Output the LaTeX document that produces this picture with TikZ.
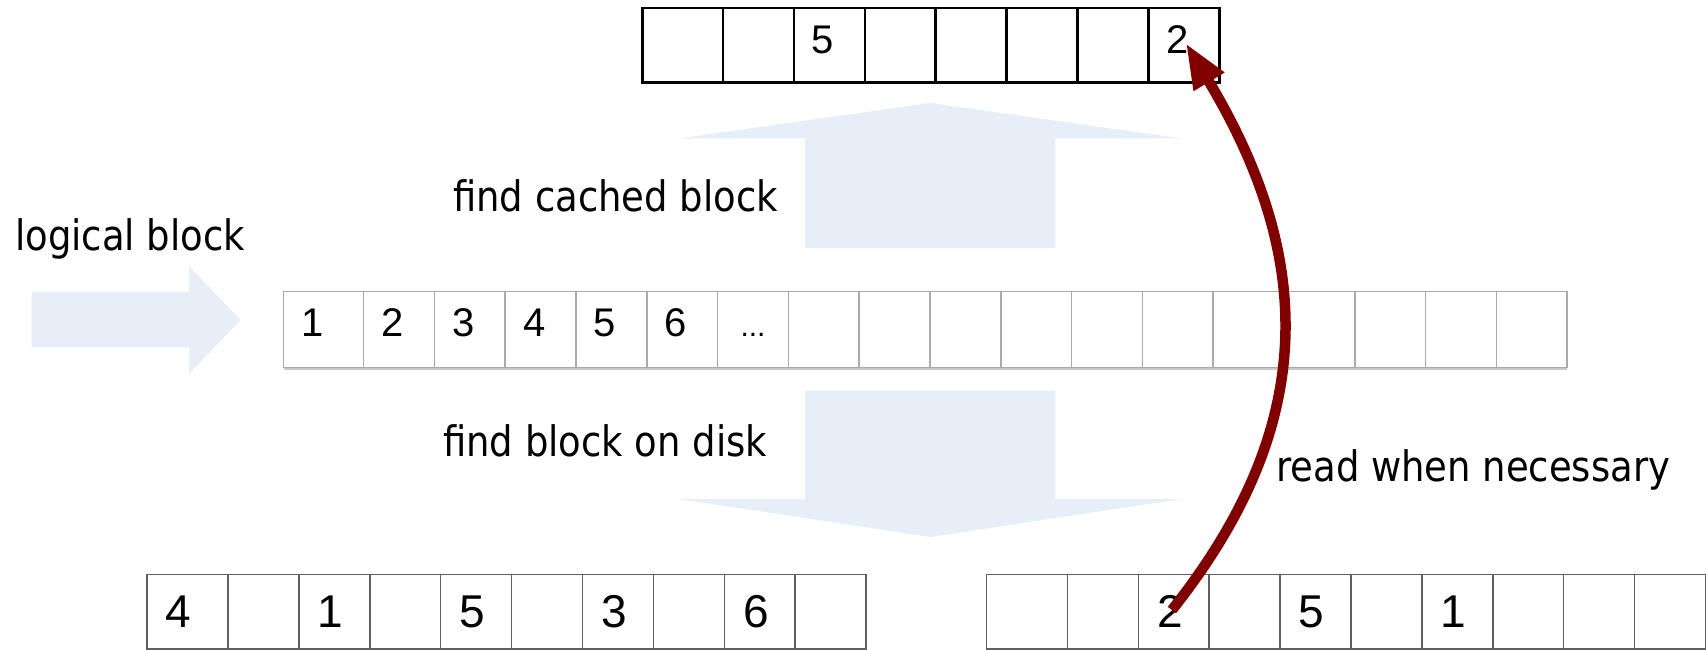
\documentclass[tikz,border=0pt]{standalone}
\usepackage{fontspec}
\setmainfont{Liberation Sans}
\newfontfamily\labfont[FakeStretch=0.88]{DejaVu Sans}
\usetikzlibrary{arrows.meta,calc}
\definecolor{arrowblue}{HTML}{E6EEF7}
\definecolor{darkred}{HTML}{800000}
\definecolor{midgray}{HTML}{AAAAAA}
\definecolor{shadowgray}{HTML}{C8C8C8}
\definecolor{botgray}{HTML}{606060}
\begin{document}
\begin{tikzpicture}[x=1pt,y=-1pt,
  cellbase/.style={inner sep=0pt, outer sep=0pt, anchor=north west, minimum height=74.5pt},
  celltop/.style={cellbase, draw=black, line width=2.5pt},
  cellmid/.style={cellbase, draw=midgray, line width=1.5pt, minimum height=76pt},
  cellbot/.style={cellbase, draw=botgray, line width=1.5pt},
  digit/.style={inner sep=0pt, font=\fontsize{40}{48}\selectfont},
  bigdigit/.style={inner sep=0pt, font=\fontsize{46}{55}\selectfont},
  txt/.style={inner sep=0pt, anchor=base west, font=\labfont\fontsize{42}{50}\selectfont},
  bigarrow/.style={fill=arrowblue, draw=none},
  rowshadow/.style={draw=shadowgray, line width=2pt},
  readarrow/.style={draw=darkred, line width=10.5pt, -{Triangle[length=45pt,width=33pt]}}
]
\fill[white] (0,0) rectangle (1706,650);
\useasboundingbox (0,0) rectangle (1706,650);

% light blue block arrows
\fill[bigarrow] (31.6,292) -- (188.8,292) -- (188.8,266) -- (240.5,320) -- (188.8,374) -- (188.8,347) -- (31.6,347) -- cycle;
\fill[bigarrow] (930.5,103) -- (1180,138.3) -- (1055,138.3) -- (1055,248) -- (805,248) -- (805,138.3) -- (680,138.3) -- cycle;
\fill[bigarrow] (805,390.5) -- (1055,390.5) -- (1055,499) -- (1181,499) -- (930.5,537) -- (679,499) -- (805,499) -- cycle;

% top row (cache)
\foreach \i in {0,...,7} {
  \pgfmathsetmacro\xl{ifthenelse(\i==0, 642.5, 723+(\i-1)*70.9)}
  \pgfmathsetmacro\cw{ifthenelse(\i==0, 80.5, 70.9)}
  \node[celltop, minimum width=\cw pt] (t\i) at (\xl,8.2) {};
}
% middle row (logical blocks)
\foreach \i in {0,...,17} {
  \pgfmathsetmacro\xl{ifthenelse(\i==0, 283.6, 363.6+(\i-1)*70.8)}
  \pgfmathsetmacro\cw{ifthenelse(\i==0, 80, 70.8)}
  \node[cellmid, minimum width=\cw pt] (m\i) at (\xl,291.7) {};
}
\draw[rowshadow] ($(m0.south west)+(0,1)$) -- ($(m17.south east)+(0,1)$);
% bottom left row
\foreach \i in {0,...,9} {
  \pgfmathsetmacro\xl{ifthenelse(\i==0, 147, 228+(\i-1)*70.9)}
  \pgfmathsetmacro\cw{ifthenelse(\i==0, 81, 70.9)}
  \node[cellbot, minimum width=\cw pt] (l\i) at (\xl,574.5) {};
}
% bottom right row
\foreach \i in {0,...,9} {
  \pgfmathsetmacro\xl{ifthenelse(\i==0, 986.4, 1067.4+(\i-1)*70.9)}
  \pgfmathsetmacro\cw{ifthenelse(\i==0, 81, 70.9)}
  \node[cellbot, minimum width=\cw pt] (r\i) at (\xl,574.5) {};
}

% digits
\foreach \c/\t in {2/5,7/2}
  \node[digit] (td\c) at ($(t\c.north west)+(29,31.8)$) {\t};
\foreach \c/\t in {0/1,1/2,2/3,3/4,4/5,5/6}
  \node[digit] (md\c) at ($(m\c.north west)+(29,31.3)$) {\t};
\node[inner sep=0pt, anchor=base, font=\fontsize{30}{36}\selectfont] (md6) at ($(m6.north)+(0,45)$) {...};
\foreach \c/\t in {0/4,2/1,4/5,6/3,8/6}
  \node[bigdigit] (ld\c) at ($(l\c.north west)+(31.6,37)$) {\t};
\foreach \c/\t in {2/2,4/5,6/1}
  \node[bigdigit] (rd\c) at ($(r\c.north west)+(31.6,37)$) {\t};

% labels
\node[txt] (lb) at (15,250) {logical block};
\node[txt] (fc) at (453,211.7) {find cached block};
\node[txt] (fd) at (443,456) {find block on disk};
\node[txt] (rw) at (1276,481.7) {read when necessary};

% read arrow
\coordinate (src) at ($(rd2)+(2,-1.5)$);
\coordinate (dst) at ($(td7)+(8.5,3.3)$);
\draw[readarrow] (src) .. controls +(143,-180) and +(132.5,220.3) .. (dst);
\end{tikzpicture}
\end{document}
